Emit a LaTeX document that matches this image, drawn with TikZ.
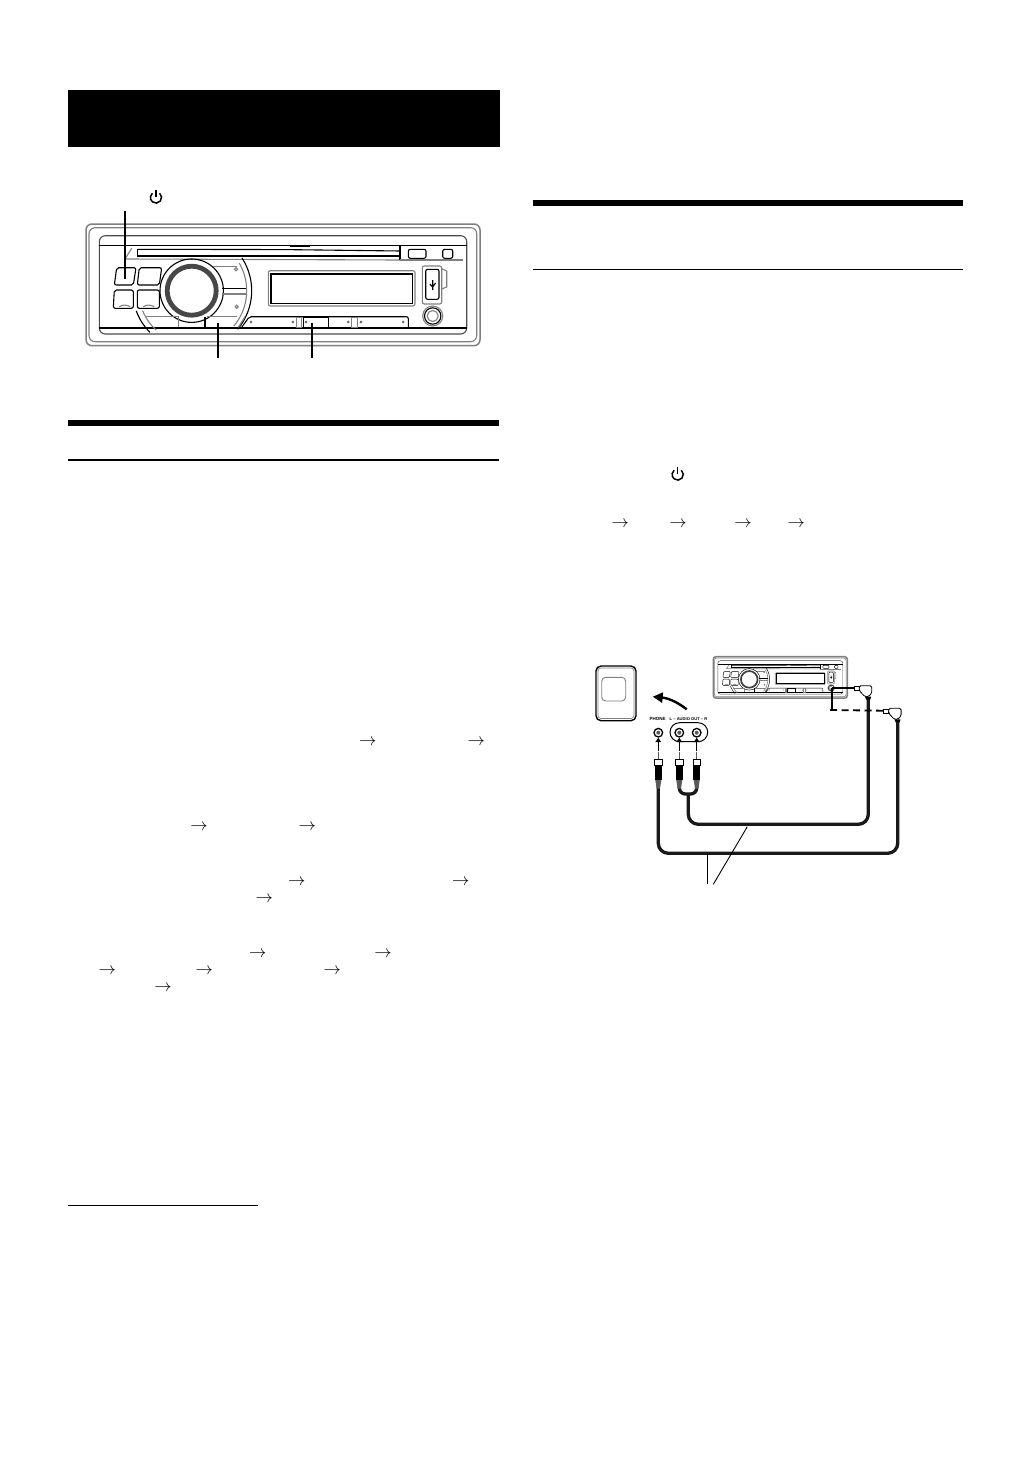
\documentclass[tikz,border=0pt]{standalone}
\usepackage{fontspec}
\setsansfont{Liberation Sans}
\usetikzlibrary{arrows.meta, positioning, calc}

\definecolor{casegray}{gray}{0.5}
\tikzset{
    hu gray/.style={draw=casegray, line width=1.1pt},
    hu line/.style={draw=black, line width=1.1pt},
    hu bold/.style={draw=black, line width=1.8pt},
    hu ring/.style={draw=black!72, line width=4.8pt},
    hu dot/.style={draw=black!70, line width=0.5pt},
    hu frame/.style={rounded corners=6pt},
    hu corner/.style={rounded corners=2pt},
    headunit/.pic={
        \draw[hu gray, line width=1.5pt, hu frame] (0,0) rectangle (394,121.7);
        \draw[hu gray, hu frame] (3,3.7) rectangle (390.7,117.7);
        \draw[hu line, draw=black!70, hu frame] (13.3,11.7) rectangle (380.7,110);
        \draw[hu line] (13.3,21.7) -- (380.7,21.7);
        \draw[hu bold] (13.3,104.3) -- (380.7,104.3);
        \draw[hu bold] (204,22.5) -- (224,22.5);
        \draw[hu line] (51.3,25.3) -- (200,25.6) -- (314,27);
        \draw[hu gray] (314,27) -- (314,32);
        \draw[hu line] (51.3,32) -- (314,32);
        \draw[hu line] (51.3,25.3) -- (51.3,32);
        \draw[hu gray] (45.7,24.3) -- (39,35) -- (314,36);
        \draw[hu line] (314,22) -- (314,36);
        \draw[hu gray] (314,36) -- (377,36);
        \draw[hu line, hu corner] (322.3,25.3) rectangle (340,34.3);
        \draw[hu line, hu corner] (356.7,25.3) rectangle (366.7,34.3);
        \foreach \a/\b/\c/\d in {30.7/50/47.3/28.3, 53.3/75.7/73.3/51.3}
            \draw[hu line, hu corner] (\a,43.7) -- (\b,43.7) -- (\c,61) -- (\d,61) -- cycle;
        \foreach \a/\b/\c/\d in {28.3/47.3/47.3/27.3, 51.3/73.3/73.3/51.3}{
            \draw[hu line, hu corner] (\a,66) -- (\b,66) -- (\c,84.3) -- (\d,84.3) -- cycle;
            \draw[hu gray] (\d+6,82.8) .. controls (\d+9,80.5) and (\d+13,80.5) .. (\d+17,82.8);
        }
        \draw[hu line] (105.7,66.7) circle (31.7);
        \draw[hu ring] (105.7,66.7) circle (24.5);
        \draw[hu line] (105.7,66.7) ++(-33:60) arc[start angle=-33, end angle=40, radius=60];
        \draw[hu gray] (105.7,66.7) ++(-30:55) arc[start angle=-30, end angle=40, radius=55];
        \draw[hu line] (105.7,66.7) ++(160:59) arc[start angle=160, end angle=135, radius=59];
        \draw[hu gray] (105.7,66.7) ++(158:53) arc[start angle=158, end angle=132, radius=53];
        \draw[hu gray] (127.3,42.7) -- (150.7,42.7);
        \draw[hu line] (135.7,64.3) -- (160,64.3);
        \draw[hu gray] (135.7,70) -- (160,70);
        \draw[hu gray] (120.7,92.7) -- (150.7,92.7);
        \draw[hu gray] (150,45.3) circle (1.6);
        \draw[hu gray] (150.7,82.7) circle (1.6);
        \draw[hu gray] (59,92.7) -- (92.3,92.7) -- (92.3,103);
        \draw[hu line] (119,92.7) -- (119,103);
        \draw[hu gray, hu corner] (182.3,46.7) rectangle (329,82);
        \draw[hu line] (185,50) rectangle (326.3,79.3);
        \draw[hu gray, hu corner] (336.3,42) rectangle (355.7,80);
        \draw[hu line, hu corner] (339.7,45.3) rectangle (353,75.3);
        \draw[hu gray] (355.7,44.7) -- (360.7,47) -- (360.7,63) -- (355.7,65);
        \draw[hu line] (346.7,56) -- (346.7,66) (343.8,60) -- (346.7,63) -- (349.6,59);
        \draw[hu gray] (346.7,92) circle (10);
        \draw[hu line] (346.7,92) circle (8.2);
        \draw[hu gray] (346.7,92) circle (5.5);
        \draw[hu line, hu corner] (155.7,103.3) -- (163.3,92.7) -- (322.3,92.7) -- (322.3,103.3);
        \draw[hu gray] (152.3,103.3) -- (159,92.7);
        \draw[hu line] (217.3,103.3) -- (217.3,93.3) -- (242.3,93.3) -- (242.3,103.3);
        \draw[hu gray] (210.7,93.5) rectangle (215.7,103.3);
        \draw[hu gray] (265.7,93.5) rectangle (271.7,103.3);
        \foreach \x in {165,206.7,220,262.3,275,317.3}
            \draw[hu dot] (\x,98) circle (1);
    },
    anglejack/.pic={
        \draw[black, line width=0.8pt, fill=white] (-14,-10) rectangle (-9,-6);
        \draw[black, line width=0.8pt, fill=white, rounded corners=1.5pt] (-9,-11) -- (3.4,-11) -- (3.4,-3.4) -- (0,0) -- (-3.4,0) -- (-9,-6) -- cycle;
        \fill[black] (-3.4,0) -- (2.8,0) -- (2,3) -- (-2,3) -- cycle;
    },
    rcaplug/.pic={
        \draw[black!65, line width=0.8pt] (0,0) -- (0,8);
        \draw[black, line width=0.8pt, fill=white] (-3.7,8) rectangle (3.7,13.5);
        \fill[black] (-3.7,13.5) rectangle (3.7,28.5);
        \fill[black!65] (-3,28.5) -- (3,28.5) -- (1.7,37) -- (-1.7,37) -- cycle;
    }
}

\newcommand{\powersym}[1]{
    \draw[black, line width=1.5pt] (#1) ++(-50:5.6) arc[start angle=-50, end angle=230, radius=5.6];
    \draw[black, line width=1.5pt] (#1) ++(0,-7.5) -- ++(0,7);
}

\begin{document}
\begin{tikzpicture}[
        x=1pt, y=-1pt,
        rulethick/.style={line width=6pt},
        rulethin/.style={line width=1.6pt},
        leaderline/.style={black, line width=1.8pt},
        pointer/.style={black, line width=0.9pt},
        cable/.style={black!90, line width=3.3pt, rounded corners=10pt},
        jackhole/.style={circle, draw=black, line width=1.3pt, inner sep=0pt, minimum size=8.6pt, path picture={\fill[black!65] (path picture bounding box.center) circle (2pt);}},
        textarrow/.style={inner sep=0pt, font=\fontsize{16}{16}\selectfont},
        tinylabel/.style={inner sep=0pt, font=\sffamily\bfseries\fontsize{4.5}{5}\selectfont},
        tinierlabel/.style={inner sep=0pt, font=\sffamily\bfseries\fontsize{4.1}{5}\selectfont},
        pushtip/.style={-{Triangle[length=4.5pt, width=5.5pt]}, black, line width=1.5pt}
    ]
    \useasboundingbox (0,0) rectangle (1032,1458);

    \fill[black] (68,90) rectangle (500,147);
    \draw[rulethick] (68,423) -- (499,423);
    \draw[rulethin] (68,460) -- (499,460);
    \draw[rulethick] (533,203) -- (963,203);
    \draw[rulethin] (533,269.5) -- (963,269.5);
    \draw[line width=1pt] (68,1205) -- (258,1205);

    \powersym{156,197.5}
    \powersym{677.7,474.5}

    \pic at (86,224) {headunit};
    \coordinate (powertop) at (124.7,210.7);
    \coordinate (powerend) at (124.7,279.3);
    \coordinate (midtop) at (217.7,323);
    \coordinate (midend) at (217.7,357.7);
    \coordinate (striptop) at (311.7,323);
    \coordinate (stripend) at (311.7,357.7);
    \draw[leaderline] (powertop) -- (powerend);
    \draw[leaderline] (midtop) -- (midend);
    \draw[leaderline] (striptop) -- (stripend);

    \foreach \x/\y [count=\i] in {367.7/742.3, 476.3/742.3, 199/827.3, 307.3/827.3, 296.7/882.3, 460.7/882.3, 264.3/899.3, 257.7/954.7, 383/954.7, 107.3/971.3, 204.3/971.3, 332.3/971.3, 163/988.3, 620.3/524, 678/524, 743/524, 796.3/524}
        \node[textarrow] (arrow\i) at (\x,\y) {$\rightarrow$};

    \draw[black, line width=1.4pt, rounded corners=5pt, fill=white] (596,666) rectangle (636,720.7);
    \draw[casegray, line width=0.7pt, rounded corners=3pt] (598,668) rectangle (634,718.5);
    \draw[casegray, line width=0.9pt, rounded corners=4pt] (601.7,677.3) rectangle (625.7,701);

    \coordinate (swingstart) at (686.7,709.3);
    \coordinate (swingend) at (652.7,696.7);
    \draw[line width=2.4pt, -{Triangle[length=10pt, width=10pt]}] (swingstart) .. controls (676,701) and (667,698) .. (swingend);

    \node[tinylabel] (phonelabel) at (657.5,719.3) {PHONE};
    \node[tinierlabel] (audiolabel) at (688.5,719.3) {L -- AUDIO OUT -- R};

    \draw[black, line width=1pt, rounded corners=9.5pt] (670,722.7) rectangle (707.7,741.7);
    \node[jackhole] (phonejack) at (658.3,732.7) {};
    \node[jackhole] (leftjack) at (679.3,732.7) {};
    \node[jackhole] (rightjack) at (696.7,732.7) {};

    \coordinate (phonepin) at (658.3,751);
    \coordinate (leftpin) at (679.3,751);
    \coordinate (rightpin) at (696.7,751);
    \draw[pushtip] (phonepin) -- (phonejack);
    \draw[pushtip] (leftpin) -- (leftjack);
    \draw[pushtip] (rightpin) -- (rightjack);

    \draw[cable] (658.3,780) -- (658.3,853.3) -- (897.7,853.3) -- (897.7,721);
    \draw[cable] (688.3,794) -- (688.3,824.3) -- (868.3,824.3) -- (868.3,698);
    \draw[black!90, line width=3.3pt, rounded corners=6pt] (679.3,786) -- (679.3,794) -- (696.7,794) -- (696.7,786);

    \pic at (658.3,751.5) {rcaplug};
    \pic at (679.3,751.5) {rcaplug};
    \pic at (696.7,751.5) {rcaplug};

    \pic[scale=0.34, hu gray/.style={draw=casegray, line width=0.6pt}, hu line/.style={draw=black, line width=0.45pt}, hu bold/.style={draw=black, line width=0.8pt}, hu ring/.style={draw=black!75, line width=1.7pt}, hu dot/.style={draw=black!60, line width=0.2pt}, hu frame/.style={rounded corners=2.5pt}, hu corner/.style={rounded corners=0.8pt}] at (713.3,656.7) {headunit};

    \pic at (868.3,696.7) {anglejack};
    \pic at (897.7,719.3) {anglejack};

    \coordinate (autojack) at (831.7,688.3);
    \coordinate (autoplug) at (854.3,688.3);
    \coordinate (dropend) at (831.7,709);
    \coordinate (dashstart) at (830,710);
    \coordinate (dashend) at (883.3,710.7);
    \draw[black, line width=1.8pt] (autoplug) -- (autojack);
    \draw[black, line width=1.8pt] (autojack) -- (dropend);
    \draw[black, line width=1.8pt, dash pattern=on 7pt off 4.5pt] (dashstart) -- (dashend);

    \coordinate (lowertouch) at (707.3,855);
    \coordinate (uppertouch) at (747.3,826.7);
    \coordinate (leftfoot) at (707.3,884.3);
    \coordinate (rightfoot) at (713.3,884.3);
    \draw[pointer] (lowertouch) -- (leftfoot);
    \draw[pointer] (uppertouch) -- (rightfoot);
\end{tikzpicture}
\end{document}
